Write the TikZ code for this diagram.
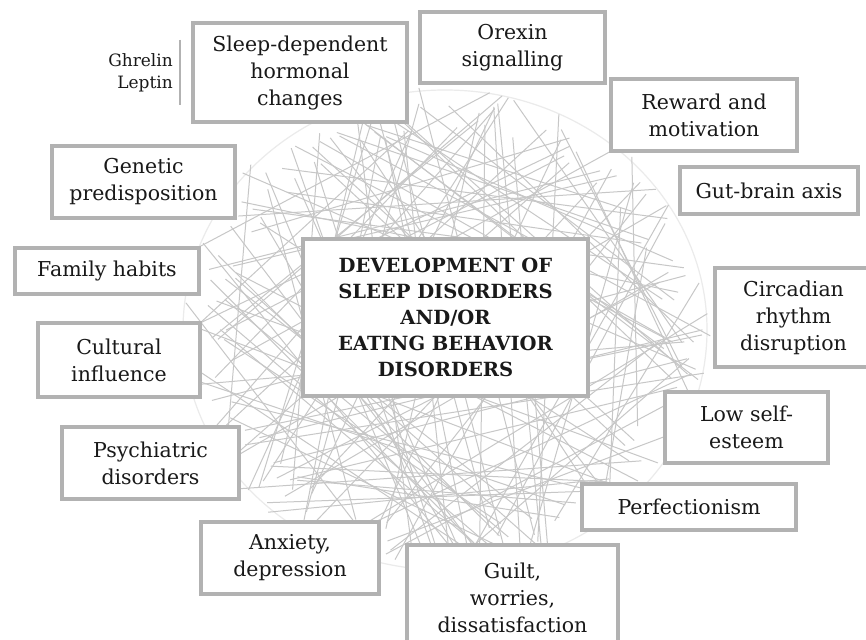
\documentclass[tikz,border=0pt]{standalone}
\usepackage{fontspec}
\setmainfont{DejaVu Serif}
\begin{document}
\begin{tikzpicture}[x=1pt,y=-1pt,
  factorbox/.style={draw=black!30,line width=3.4pt,fill=white,align=center,
    inner sep=0pt,font=\fontsize{20.5}{27}\selectfont,text=black!90},
  mainbox/.style={factorbox,font=\fontsize{19.5}{26}\bfseries\selectfont},
  web/.style={draw=black!22,line width=1pt}]
\clip (0,0) rectangle (866,639);
\fill[white] (0,0) rectangle (866,639);
% background web of lines
\draw[black!8,line width=1.2pt] (445,330) ellipse [x radius=262,y radius=240];
\pgfmathsetseed{4321}
\foreach \i in {1,...,120}{
  \pgfmathsetmacro{\aa}{rnd*360}
  \pgfmathsetmacro{\bb}{\aa+70+rnd*220}
  \pgfmathsetmacro{\ra}{0.85+0.2*rnd}
  \pgfmathsetmacro{\rb}{0.85+0.2*rnd}
  \draw[web] ({445+255*\ra*cos(\aa)},{330+235*\ra*sin(\aa)}) -- ({445+255*\rb*cos(\bb)},{330+235*\rb*sin(\bb)});
}
% boxes
\node[mainbox,minimum width=285,minimum height=157] (center) at (445.5,317.5)
  {DEVELOPMENT OF\\SLEEP DISORDERS\\AND/OR\\EATING BEHAVIOR\\DISORDERS};
\node[factorbox,minimum width=214,minimum height=99] (hormonal) at (300,72.5) {Sleep-dependent\\hormonal\\changes};
\node[factorbox,minimum width=185,minimum height=71] (orexin) at (512.5,47.5) {Orexin\\signalling};
\node[factorbox,minimum width=186,minimum height=72] (reward) at (704,115) {Reward and\\motivation};
\node[factorbox,minimum width=178,minimum height=47] (gut) at (769,190.5) {Gut-brain axis};
\node[factorbox,minimum width=157,minimum height=99] (circadian) at (793.5,317.5) {Circadian\\rhythm\\disruption};
\node[factorbox,minimum width=163,minimum height=71] (lowself) at (746.5,427.5) {Low self-\\esteem};
\node[factorbox,minimum width=214,minimum height=46] (perfect) at (689,507) {Perfectionism};
\node[factorbox,minimum width=211,minimum height=106] (guilt) at (512.5,598) {Guilt,\\worries,\\dissatisfaction};
\node[factorbox,minimum width=178,minimum height=72] (anxiety) at (290,558) {Anxiety,\\depression};
\node[factorbox,minimum width=177,minimum height=72] (psych) at (150.5,463) {Psychiatric\\disorders};
\node[factorbox,minimum width=162,minimum height=74] (cultural) at (119,360) {Cultural\\influence};
\node[factorbox,minimum width=184,minimum height=46] (family) at (107,271) {Family habits};
\node[factorbox,minimum width=183,minimum height=72] (genetic) at (143.5,182) {Genetic\\predisposition};
% hormones label
\node[align=right,anchor=east,inner sep=0pt,font=\fontsize{17}{22}\selectfont,text=black!90] (hormones) at (173,73) {Ghrelin\\Leptin};
\coordinate (bartop) at (180,40);
\coordinate (barbot) at (180,105);
\draw[black!30,line width=2pt] (bartop) -- (barbot);
\end{tikzpicture}
\end{document}
